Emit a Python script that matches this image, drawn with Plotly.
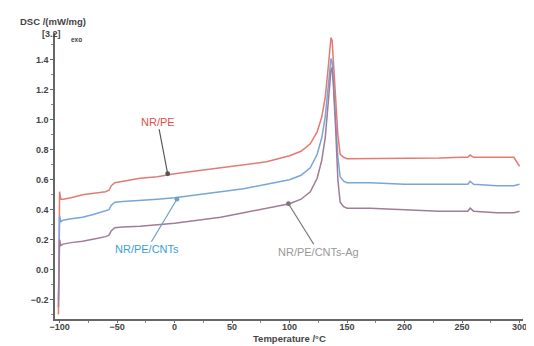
import plotly.graph_objects as go

# Temperature (°C)
temperature = [-101, -100, -99, -97, -90, -80, -70, -60, -57, -55, -52, -45, -30, -15, 0,
               20, 40, 60, 80, 100, 110, 118, 124, 128, 131, 133, 135, 136, 137, 138,
               140, 142, 144, 147, 150, 170, 200, 230, 250, 255, 257, 260, 280, 295, 300]

# DSC signal (mW/mg)
nr_pe = [-0.30, 0.52, 0.47, 0.47, 0.48, 0.50, 0.51, 0.52, 0.53, 0.56, 0.58, 0.59, 0.61, 0.62, 0.64,
         0.66, 0.68, 0.70, 0.72, 0.76, 0.79, 0.84, 0.92, 1.02, 1.15, 1.30, 1.47, 1.55, 1.53, 1.40,
         1.15, 0.90, 0.77, 0.75, 0.74, 0.74, 0.74, 0.745, 0.75, 0.75, 0.765, 0.75, 0.75, 0.75, 0.69]

nr_pe_cnts = [-0.20, 0.36, 0.32, 0.33, 0.34, 0.35, 0.37, 0.39, 0.40, 0.43, 0.45, 0.455, 0.46, 0.47, 0.48,
              0.50, 0.52, 0.54, 0.57, 0.60, 0.63, 0.68, 0.77, 0.88, 1.02, 1.18, 1.34, 1.41, 1.39, 1.26,
              1.00, 0.75, 0.62, 0.59, 0.58, 0.58, 0.57, 0.57, 0.57, 0.57, 0.59, 0.57, 0.56, 0.56, 0.57]

nr_pe_cnts_ag = [-0.25, 0.20, 0.16, 0.17, 0.18, 0.19, 0.205, 0.22, 0.23, 0.26, 0.28, 0.285, 0.29, 0.30, 0.31,
                 0.33, 0.35, 0.38, 0.41, 0.44, 0.47, 0.52, 0.61, 0.73, 0.88, 1.05, 1.25, 1.33, 1.35, 1.25,
                 0.95, 0.60, 0.45, 0.42, 0.41, 0.41, 0.40, 0.39, 0.39, 0.39, 0.41, 0.39, 0.38, 0.38, 0.39]

series_names = ["NR/PE", "NR/PE/CNTs", "NR/PE/CNTs-Ag"]
x_ticks = [-100, -50, 0, 50, 100, 150, 200, 250, 300]
y_ticks = [-0.2, 0.0, 0.2, 0.4, 0.6, 0.8, 1.0, 1.2, 1.4]

colors = ["#e57a72", "#78a6d8", "#a07c98"]

fig = go.Figure()
for name, vals, c in zip(series_names, [nr_pe, nr_pe_cnts, nr_pe_cnts_ag], colors):
    fig.add_trace(go.Scatter(x=temperature, y=vals, mode="lines", name=name,
                             line=dict(color=c, width=1.5)))

# curve labels with arrows
fig.add_annotation(x=-6, y=0.64, text="NR/PE", showarrow=True, ax=-10, ay=-52,
                   arrowhead=6, arrowsize=1, arrowwidth=1.2, arrowcolor="#555",
                   font=dict(color="#e0504a", size=11, family="Liberation Sans"))
fig.add_annotation(x=2, y=0.47, text="NR/PE/CNTs", showarrow=True, ax=-30, ay=50,
                   arrowhead=6, arrowsize=1, arrowwidth=1.2, arrowcolor="#6f9fc0",
                   font=dict(color="#3aa0d8", size=11, family="Liberation Sans"))
fig.add_annotation(x=99, y=0.44, text="NR/PE/CNTs-Ag", showarrow=True, ax=30, ay=48,
                   arrowhead=6, arrowsize=1, arrowwidth=1.2, arrowcolor="#777",
                   font=dict(color="#999", size=11, family="Liberation Sans"))

# axis header / title texts
fig.add_annotation(xref="paper", yref="paper", x=-0.004, y=1.065, xanchor="center",
                   text="<b>DSC /(mW/mg)</b>",
                   showarrow=False, font=dict(size=9.5, color="#444", family="Liberation Sans"))
fig.add_annotation(xref="paper", yref="paper", x=-0.008, y=1.022, xanchor="center",
                   text="<b>[3.2]</b>",
                   showarrow=False, font=dict(size=9, color="#444", family="Liberation Sans"))
fig.add_annotation(xref="paper", yref="paper", x=0.045, y=0.997, xanchor="center",
                   text="<b>exo</b>",
                   showarrow=False, font=dict(size=6.5, color="#444", family="Liberation Sans"))
fig.add_annotation(xref="paper", yref="paper", x=0.5, y=-0.068, yanchor="middle",
                   text="<b>Temperature /°C</b>", showarrow=False,
                   font=dict(size=9.5, color="#444", family="Liberation Sans"))

# page body has an 8px margin, so the figure is sized to fit the window
fig.update_layout(
    width=526, height=338,
    margin=dict(l=47, r=7, t=25, b=27),
    plot_bgcolor="white", paper_bgcolor="white",
    showlegend=False,
    font=dict(family="Liberation Sans", color="#444"),
)
fig.update_xaxes(range=[-104, 303], tickvals=x_ticks, showgrid=False, zeroline=False,
                 showline=True, linecolor="#666", linewidth=1.5,
                 ticks="outside", ticklen=2, tickcolor="#666", ticklabelstandoff=-4,
                 minor=dict(dtick=25, ticks="outside", ticklen=2, tickcolor="#888"),
                 tickfont=dict(size=9, color="#444", weight="bold"))
fig.update_yaxes(range=[-0.33, 1.58], tickvals=y_ticks, tickformat=".1f", showgrid=False,
                 zeroline=False, showline=True, linecolor="#666", linewidth=1.5,
                 ticks="outside", ticklen=3, tickcolor="#666",
                 minor=dict(dtick=0.1, ticks="outside", ticklen=2, tickcolor="#888"),
                 tickfont=dict(size=9, color="#444", weight="bold"))

fig.write_html("out.html")
